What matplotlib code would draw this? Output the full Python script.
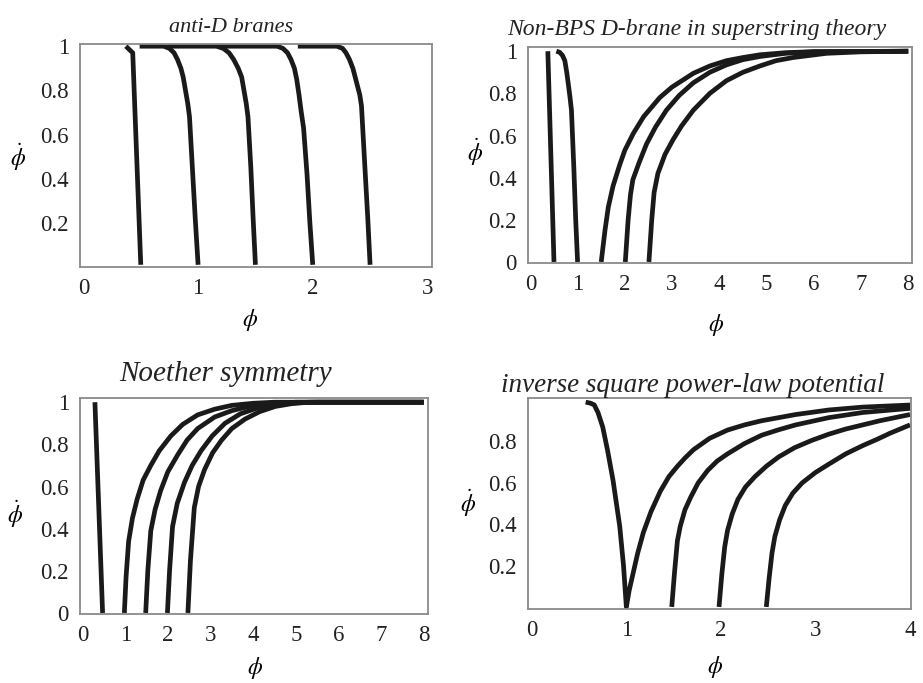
# phase portraits: phi-dot vs phi for four models

import matplotlib
matplotlib.use('Agg')
import matplotlib.pyplot as plt

plt.rcParams['font.family'] = ['Liberation Serif', 'DejaVu Serif']
plt.rcParams['mathtext.fontset'] = 'stix'

LINE_COLOR = '#1a1a1a'
FRAME_COLOR = '#8a8a8a'

# ---- anti-D branes ----
antiD_x = [
    [0.37, 0.43, 0.50],
    [0.49, 0.70, 0.75, 0.79, 0.82, 0.85, 0.87, 0.89, 0.91, 0.925, 0.95, 0.975, 1.00],
    [0.73, 1.16, 1.22, 1.27, 1.31, 1.35, 1.38, 1.40, 1.42, 1.435, 1.46, 1.48, 1.50],
    [1.18, 1.69, 1.74, 1.78, 1.81, 1.84, 1.86, 1.88, 1.90, 1.92, 1.95, 1.975, 2.00],
    [1.87, 2.21, 2.26, 2.29, 2.32, 2.35, 2.37, 2.39, 2.41, 2.425, 2.455, 2.48, 2.50],
]
antiD_y = [
    [1.00, 0.97, 0.01],
    [1.00, 1.00, 0.99, 0.97, 0.94, 0.90, 0.86, 0.80, 0.74, 0.68, 0.45, 0.22, 0.01],
    [1.00, 1.00, 0.99, 0.97, 0.94, 0.90, 0.86, 0.80, 0.74, 0.68, 0.45, 0.22, 0.01],
    [1.00, 1.00, 0.99, 0.97, 0.94, 0.90, 0.85, 0.78, 0.70, 0.63, 0.42, 0.20, 0.01],
    [1.00, 1.00, 0.99, 0.97, 0.94, 0.90, 0.86, 0.82, 0.78, 0.73, 0.45, 0.22, 0.01],
]

# ---- Non-BPS D-brane ----
nonbps_x = [
    [0.37, 0.50],
    [0.55, 0.62, 0.68, 0.73, 0.77, 0.80, 0.84, 0.87, 0.92, 0.96, 1.00],
    [1.50, 1.58, 1.65, 1.75, 1.89, 2.00, 2.18, 2.40, 2.74, 3.00, 3.45, 3.80, 4.15, 4.50, 4.86, 5.40, 6.00, 8.00],
    [2.01, 2.07, 2.12, 2.17, 2.30, 2.46, 2.65, 2.88, 3.15, 3.45, 3.80, 4.15, 4.50, 4.86, 5.40, 6.00, 8.00],
    [2.51, 2.57, 2.62, 2.70, 2.85, 3.02, 3.20, 3.45, 3.80, 4.15, 4.50, 4.86, 5.20, 5.56, 6.27, 7.00, 8.00],
]
nonbps_y = [
    [1.00, 0.00],
    [1.00, 0.995, 0.98, 0.955, 0.90, 0.85, 0.78, 0.72, 0.45, 0.20, 0.00],
    [0.00, 0.15, 0.26, 0.36, 0.46, 0.53, 0.61, 0.69, 0.78, 0.83, 0.895, 0.93, 0.955, 0.97, 0.983, 0.993, 0.998, 1.00],
    [0.00, 0.20, 0.32, 0.39, 0.47, 0.56, 0.64, 0.72, 0.79, 0.85, 0.90, 0.935, 0.96, 0.975, 0.99, 0.997, 1.00],
    [0.00, 0.20, 0.33, 0.42, 0.51, 0.58, 0.645, 0.72, 0.80, 0.86, 0.90, 0.93, 0.955, 0.97, 0.99, 0.997, 1.00],
]

# ---- Noether symmetry ----
noether_x = [
    [0.29, 0.47],
    [0.98, 1.02, 1.08, 1.17, 1.28, 1.42, 1.60, 1.80, 2.07, 2.35, 2.70, 3.10, 3.50, 4.00, 4.50, 8.00],
    [1.48, 1.53, 1.60, 1.70, 1.83, 2.00, 2.23, 2.45, 2.70, 3.10, 3.50, 3.90, 4.28, 5.00, 8.00],
    [1.99, 2.04, 2.11, 2.22, 2.39, 2.57, 2.78, 3.04, 3.34, 3.70, 4.13, 4.50, 4.90, 5.50, 8.00],
    [2.47, 2.53, 2.62, 2.72, 2.86, 3.05, 3.26, 3.50, 3.81, 4.15, 4.52, 4.90, 5.30, 8.00],
]
noether_y = [
    [1.00, 0.00],
    [0.00, 0.17, 0.34, 0.45, 0.54, 0.63, 0.70, 0.77, 0.84, 0.895, 0.94, 0.967, 0.985, 0.995, 1.00, 1.00],
    [0.00, 0.20, 0.39, 0.49, 0.58, 0.67, 0.75, 0.82, 0.875, 0.93, 0.96, 0.98, 0.99, 1.00, 1.00],
    [0.00, 0.20, 0.41, 0.52, 0.62, 0.70, 0.77, 0.84, 0.90, 0.945, 0.975, 0.99, 0.997, 1.00, 1.00],
    [0.00, 0.25, 0.50, 0.60, 0.68, 0.76, 0.82, 0.875, 0.92, 0.955, 0.98, 0.993, 1.00, 1.00],
]

# ---- inverse square power-law potential ----
invsq_x = [
    [0.57, 0.62, 0.66, 0.70, 0.75, 0.80, 0.86, 0.93, 0.97, 1.00, 1.03, 1.07, 1.12, 1.18, 1.26, 1.36,
     1.45, 1.54, 1.62, 1.71, 1.88, 2.07, 2.25, 2.43, 2.79, 3.14, 3.50, 4.00],
    [1.48, 1.51, 1.54, 1.57, 1.62, 1.68, 1.76, 1.86, 1.96, 2.07, 2.25, 2.43, 2.60, 2.79, 3.14, 3.50, 3.75, 4.00],
    [1.98, 2.01, 2.04, 2.07, 2.12, 2.18, 2.26, 2.36, 2.48, 2.61, 2.78, 2.96, 3.14, 3.32, 3.50, 3.68, 4.00],
    [2.48, 2.51, 2.54, 2.57, 2.62, 2.68, 2.76, 2.86, 3.00, 3.14, 3.32, 3.50, 3.65, 3.79, 4.00],
]
invsq_y = [
    [0.99, 0.985, 0.977, 0.94, 0.87, 0.76, 0.61, 0.39, 0.20, 0.00, 0.08, 0.16, 0.26, 0.36, 0.46, 0.56,
     0.63, 0.68, 0.72, 0.76, 0.815, 0.855, 0.88, 0.90, 0.93, 0.952, 0.966, 0.976],
    [0.00, 0.17, 0.32, 0.39, 0.47, 0.53, 0.60, 0.66, 0.705, 0.74, 0.79, 0.83, 0.855, 0.88, 0.915, 0.94, 0.95, 0.96],
    [0.00, 0.16, 0.29, 0.37, 0.45, 0.52, 0.58, 0.63, 0.68, 0.725, 0.77, 0.805, 0.835, 0.86, 0.88, 0.90, 0.93],
    [0.00, 0.14, 0.26, 0.34, 0.42, 0.49, 0.55, 0.60, 0.65, 0.69, 0.74, 0.78, 0.81, 0.84, 0.88],
]

panels = [
    # title, xs, ys, xlim, xticks, ylim, yticks, rect (l, top, w, h in px),
    # title (size, x, pad), xlabel pos, ylabel pos (axes coords)
    ('anti-D branes', antiD_x, antiD_y, (-0.03, 3.04), [0, 1, 2, 3], (0, 1.01),
     [0.2, 0.4, 0.6, 0.8, 1], (80, 44, 352, 223), (16, 0.43, 9), (0.483, -0.238), (-0.176, 0.49)),
    ('Non-BPS D-brane in superstring theory', nonbps_x, nonbps_y, (-0.05, 8.08), range(9), (-0.005, 1.02),
     [0, 0.2, 0.4, 0.6, 0.8, 1], (528, 47, 384, 216), (17, 0.44, 9), (0.49, -0.287), (-0.138, 0.51)),
    ('Noether symmetry', noether_x, noether_y, (-0.06, 8.1), range(9), (-0.005, 1.02),
     [0, 0.2, 0.4, 0.6, 0.8, 1], (80, 398, 348, 216), (21, 0.417, 12), (0.503, -0.25), (-0.187, 0.46)),
    ('inverse square power-law potential', invsq_x, invsq_y, (-0.04, 4.01), [0, 1, 2, 3, 4], (-0.01, 1.01),
     [0.2, 0.4, 0.6, 0.8], (528, 398, 383, 211), (19.5, 0.43, 4), (0.488, -0.275), (-0.157, 0.50)),
]

W, H = 923, 683
fig = plt.figure(figsize=(W / 100, H / 100), dpi=100)

for title, xs, ys, xlim, xticks, ylim, yticks, rect, tstyle, xlab_pos, ylab_pos in panels:
    l, t, w, h = rect
    tsize, tx, tpad = tstyle
    ax = fig.add_axes([l / W, 1 - (t + h) / H, w / W, h / H])
    for x, y in zip(xs, ys):
        ax.plot(x, y, color=LINE_COLOR, lw=3.4, solid_capstyle='butt', solid_joinstyle='round')
    ax.set_xlim(*xlim)
    ax.set_ylim(*ylim)
    ax.set_xticks(list(xticks))
    ax.set_yticks(yticks)
    ax.set_yticklabels(['{:g}'.format(v) for v in yticks])
    ax.tick_params(length=0, labelsize=16.5, pad=8, labelcolor='#222222')
    for s in ax.spines.values():
        s.set_color(FRAME_COLOR)
        s.set_linewidth(1.3)
    ax.set_title(title, fontstyle='italic', fontsize=tsize, pad=tpad, x=tx, color='#222222')
    ax.set_xlabel(r'$\phi$', fontsize=17, va='center')
    ax.set_ylabel(r'$\dot{\phi}$', fontsize=17, rotation=0, va='center', ha='center')
    ax.xaxis.set_label_coords(*xlab_pos)
    ax.yaxis.set_label_coords(*ylab_pos)

fig.savefig('out.png', dpi=100, facecolor='white')
